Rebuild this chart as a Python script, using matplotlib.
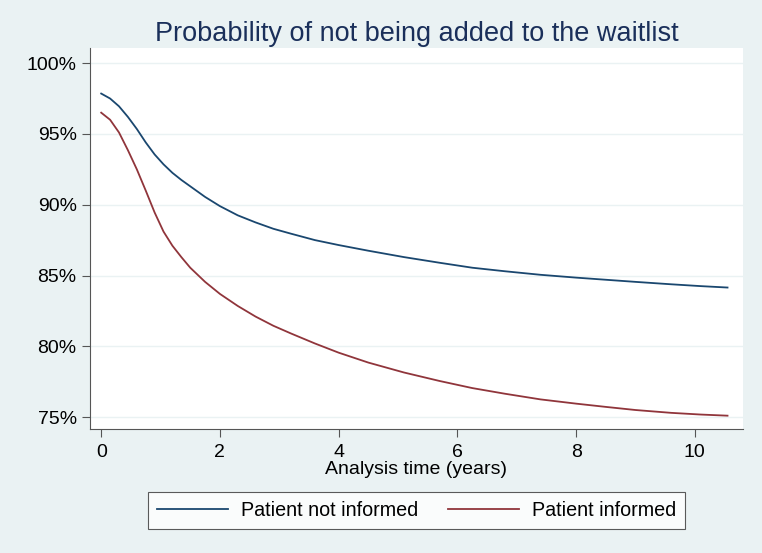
import matplotlib
matplotlib.use('Agg')
import matplotlib.pyplot as plt
from matplotlib.ticker import FuncFormatter

plt.rcParams['font.family'] = ['Liberation Sans', 'DejaVu Sans']

# survival estimates (years, percent)
t = [0, 0.15, 0.3, 0.45, 0.6, 0.75, 0.9, 1.05, 1.2, 1.35, 1.5, 1.75, 2.0,
     2.3, 2.6, 2.9, 3.2, 3.6, 4.0, 4.5, 5.1, 5.7, 6.25, 6.8, 7.4, 8.0, 8.5,
     9.0, 9.6, 10.1, 10.55]
not_informed = [97.85, 97.5, 96.95, 96.2, 95.35, 94.4, 93.55, 92.85, 92.25,
                91.75, 91.3, 90.55, 89.9, 89.25, 88.75, 88.3, 87.95, 87.5,
                87.15, 86.75, 86.3, 85.9, 85.55, 85.3, 85.05, 84.85, 84.7,
                84.55, 84.38, 84.25, 84.15]
informed = [96.5, 96.0, 95.1, 93.85, 92.5, 91.0, 89.45, 88.1, 87.1, 86.3,
            85.55, 84.55, 83.7, 82.85, 82.1, 81.45, 80.9, 80.2, 79.55, 78.85,
            78.15, 77.55, 77.05, 76.65, 76.25, 75.95, 75.72, 75.5, 75.3,
            75.18, 75.1]
labels = ['Patient not informed', 'Patient informed']
colors = ['#1a476f', '#90353b']
xticks = [0, 2, 4, 6, 8, 10]
yticks = [75, 80, 85, 90, 95, 100]

bg = '#eaf2f3'
fig = plt.figure(figsize=(7.62, 5.53), dpi=100, facecolor=bg)
ax = fig.add_axes([0.118, 0.224, 0.857, 0.689])
ax.set_facecolor('white')

ax.plot(t, not_informed, color=colors[0], lw=1.3, label=labels[0])
ax.plot(t, informed, color=colors[1], lw=1.3, label=labels[1])

ax.set_xlim(-0.19, 10.81)
ax.set_ylim(74.15, 101.06)
ax.set_xticks(xticks)
ax.set_yticks(yticks)
ax.yaxis.set_major_formatter(FuncFormatter(lambda v, p: '%d%%' % v))
ax.grid(axis='y', color=bg, lw=1)
ax.set_axisbelow(True)
for s in ['top', 'right']:
    ax.spines[s].set_visible(False)
for s in ['left', 'bottom']:
    ax.spines[s].set_color('#555555')
ax.tick_params(direction='out', length=5.5, color='#555555', labelsize=14, pad=4)
ax.tick_params(axis='x', pad=5)

ax.set_xlabel('Analysis time (years)', fontsize=14, labelpad=0)
ax.set_title('Probability of not being added to the waitlist', fontsize=19.5,
             color='#1a2f5a', pad=5)

leg = ax.legend(loc='upper center', bbox_to_anchor=(0.50, -0.165), ncol=2,
                fontsize=14.2, frameon=True, fancybox=False, edgecolor='#333333',
                handlelength=3.6, handletextpad=0.65, columnspacing=1.5,
                borderpad=0.45, borderaxespad=0)
leg.get_frame().set_linewidth(0.8)
leg.get_frame().set_facecolor('white')

fig.savefig('out.png', dpi=100, facecolor=bg)
